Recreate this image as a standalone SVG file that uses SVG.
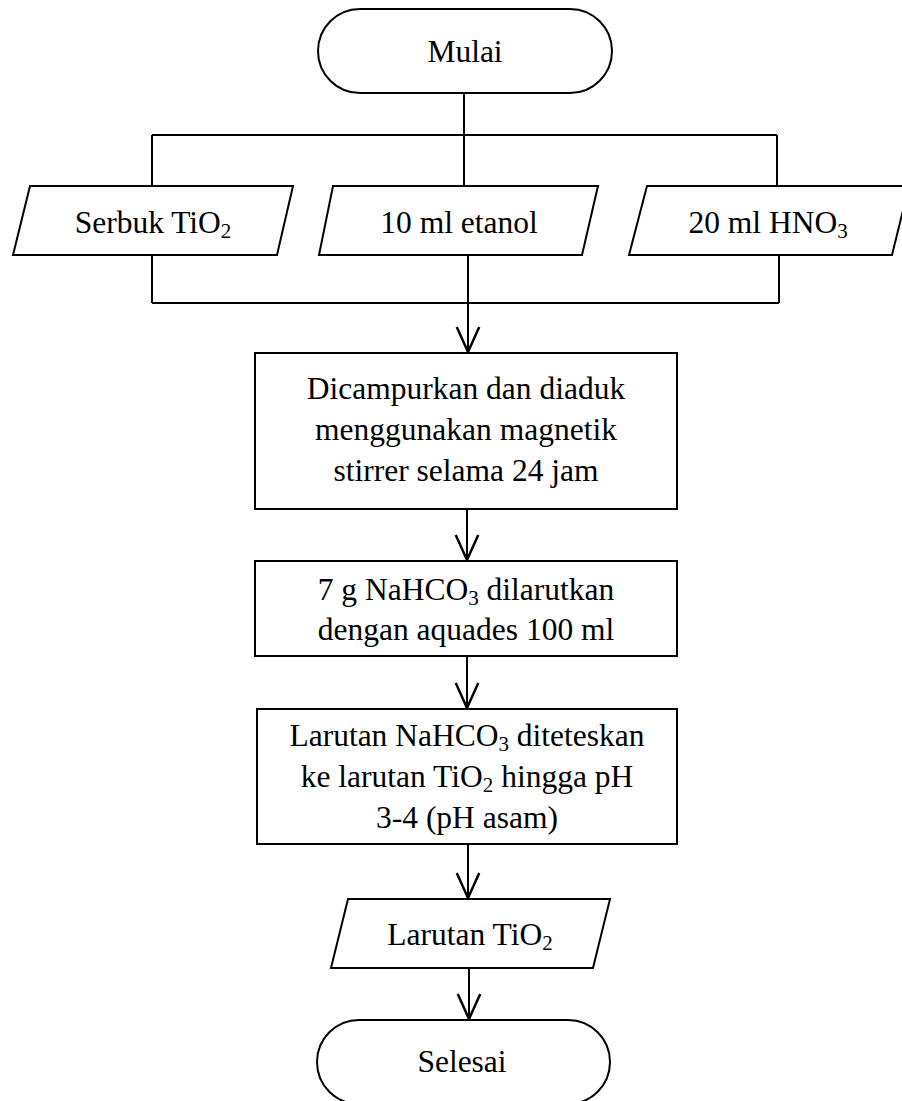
<svg xmlns="http://www.w3.org/2000/svg" width="902" height="1101" viewBox="0 0 902 1101">
<style>
.s{fill:#fff;stroke:#000;stroke-width:2}
.c{fill:none;stroke:#000;stroke-width:2}
text{font-family:"Liberation Serif","Times New Roman",serif;font-size:31.5px;fill:#000;text-anchor:middle}
.sub{font-size:21px}
</style>
<defs>
<marker id="arr" markerUnits="userSpaceOnUse" markerWidth="30" markerHeight="30" refX="0" refY="0" orient="auto" viewBox="-22 -11 24 22" overflow="visible">
<path d="M-20,-9 L0,0 L-20,9" fill="none" stroke="#000" stroke-width="2"/>
</marker>
</defs>
<g id="connectors">
<path class="c" d="M464,93 V135 M152,135 H777 M152,135 V186 M464,135 V186 M777,135 V186"/>
<path class="c" d="M152,255 V303 M468,255 V303 M779,255 V303 M152,303 H779"/>
<path class="c" d="M468,303 V352" marker-end="url(#arr)"/>
<path class="c" d="M467,509 V560" marker-end="url(#arr)"/>
<path class="c" d="M467,656 V708" marker-end="url(#arr)"/>
<path class="c" d="M468,844 V898" marker-end="url(#arr)"/>
<path class="c" d="M469,968 V1019" marker-end="url(#arr)"/>
</g>
<g id="mulai">
<rect class="s" x="318" y="9" width="294" height="84" rx="42"/>
<text x="465" y="62">Mulai</text>
</g>
<g id="serbuk">
<polygon class="s" points="30,186 293,186 277,255 13,255"/>
<text x="153" y="233">Serbuk TiO<tspan class="sub" dy="5">2</tspan></text>
</g>
<g id="etanol">
<polygon class="s" points="333,186 598,186 582,255 319,255"/>
<text x="459" y="233">10 ml etanol</text>
</g>
<g id="hno3">
<polygon class="s" points="647,186 909,186 892,255 629,255"/>
<text x="768" y="233">20 ml HNO<tspan class="sub" dy="5">3</tspan></text>
</g>
<g id="aduk">
<rect class="s" x="255" y="353" width="422" height="156"/>
<text x="466" y="399">Dicampurkan dan diaduk</text>
<text x="466" y="440">menggunakan magnetik</text>
<text x="466" y="481">stirrer selama 24 jam</text>
</g>
<g id="nahco3">
<rect class="s" x="255" y="561" width="422" height="95"/>
<text x="466" y="600">7 g NaHCO<tspan class="sub" dy="5">3</tspan><tspan dy="-5"> dilarutkan</tspan></text>
<text x="466" y="640">dengan aquades 100 ml</text>
</g>
<g id="tetes">
<rect class="s" x="257" y="709" width="420" height="135"/>
<text x="467" y="746">Larutan NaHCO<tspan class="sub" dy="5">3</tspan><tspan dy="-5"> diteteskan</tspan></text>
<text x="467" y="787">ke larutan TiO<tspan class="sub" dy="5">2</tspan><tspan dy="-5"> hingga pH</tspan></text>
<text x="467" y="828">3-4 (pH asam)</text>
</g>
<g id="larutan">
<polygon class="s" points="348,899 610,899 593,968 331,968"/>
<text x="470" y="945">Larutan TiO<tspan class="sub" dy="5">2</tspan></text>
</g>
<g id="selesai">
<rect class="s" x="317" y="1020" width="293" height="84" rx="42"/>
<text x="462" y="1072">Selesai</text>
</g>
</svg>
